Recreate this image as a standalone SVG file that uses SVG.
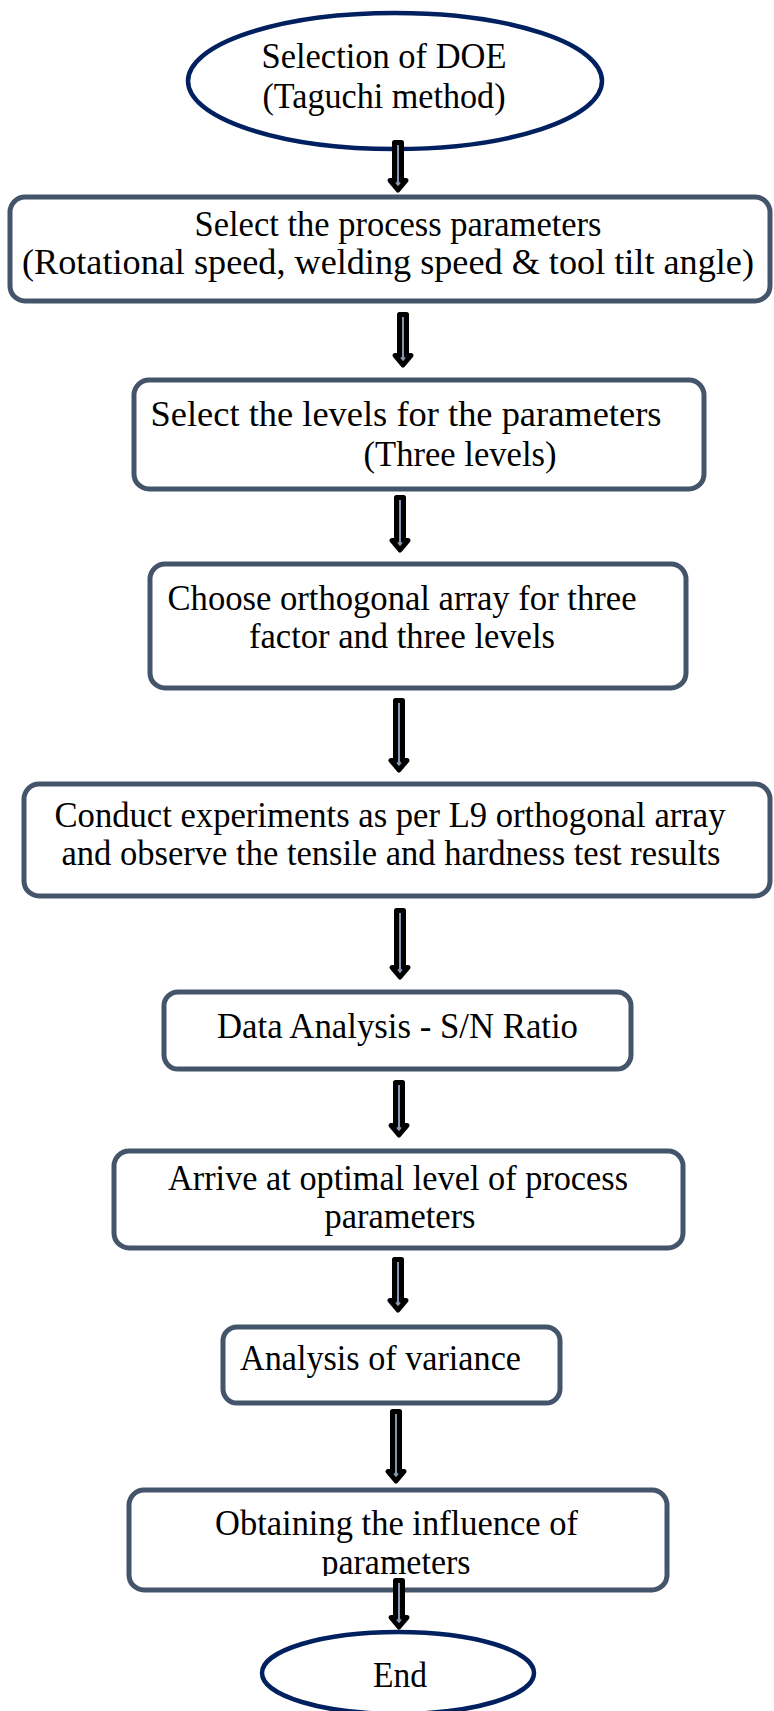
<svg xmlns="http://www.w3.org/2000/svg" width="774" height="1711" viewBox="0 0 774 1711">
<style>
.bg{fill:#ffffff}
.box{fill:#ffffff;stroke:#44546A;stroke-width:5}
.oval{fill:#ffffff;stroke:#002060;stroke-width:4.5}
.t{font-family:"Liberation Serif","Times New Roman",serif;font-size:35px;fill:#000000;text-anchor:middle}
.arr{fill:#8496B0;stroke:#000000;stroke-width:5;stroke-linejoin:round}
</style>
<defs>
<clipPath id="clipB8"><rect x="100" y="1480" width="600" height="96"/></clipPath>
</defs>
<rect class="bg" x="0" y="0" width="774" height="1711"/>
<g id="n-start">
<ellipse class="oval" cx="395" cy="81" rx="207" ry="68"/>
<text class="t" x="384" y="68" textLength="245" lengthAdjust="spacingAndGlyphs">Selection of DOE</text>
<text class="t" x="384" y="108" textLength="243" lengthAdjust="spacingAndGlyphs">(Taguchi method)</text>
</g>
<g id="n-params">
<rect class="box" x="10" y="197" width="760" height="104" rx="15"/>
<text class="t" x="398" y="236" textLength="407" lengthAdjust="spacingAndGlyphs">Select the process parameters</text>
<text class="t" x="388" y="274" textLength="732" lengthAdjust="spacingAndGlyphs">(Rotational speed, welding speed &amp; tool tilt angle)</text>
</g>
<g id="n-levels">
<rect class="box" x="134" y="380" width="570" height="109" rx="15"/>
<text class="t" x="406" y="426" textLength="511" lengthAdjust="spacingAndGlyphs">Select the levels for the parameters</text>
<text class="t" x="460" y="466" textLength="193" lengthAdjust="spacingAndGlyphs">(Three levels)</text>
</g>
<g id="n-array">
<rect class="box" x="150" y="564" width="536" height="124" rx="15"/>
<text class="t" x="402" y="610" textLength="469" lengthAdjust="spacingAndGlyphs">Choose orthogonal array for three</text>
<text class="t" x="402" y="648" textLength="306" lengthAdjust="spacingAndGlyphs">factor and three levels</text>
</g>
<g id="n-experiments">
<rect class="box" x="24" y="784" width="746" height="112" rx="15"/>
<text class="t" x="390" y="827" textLength="671" lengthAdjust="spacingAndGlyphs">Conduct experiments as per L9 orthogonal array</text>
<text class="t" x="391" y="865" textLength="659" lengthAdjust="spacingAndGlyphs">and observe the tensile and hardness test results</text>
</g>
<g id="n-sn">
<rect class="box" x="164" y="992" width="467" height="77" rx="14"/>
<text class="t" x="397.5" y="1038" textLength="361" lengthAdjust="spacingAndGlyphs">Data Analysis - S/N Ratio</text>
</g>
<g id="n-optimal">
<rect class="box" x="114" y="1151" width="569" height="97" rx="15"/>
<text class="t" x="398" y="1190" textLength="460" lengthAdjust="spacingAndGlyphs">Arrive at optimal level of process</text>
<text class="t" x="400" y="1228" textLength="151" lengthAdjust="spacingAndGlyphs">parameters</text>
</g>
<g id="n-anova">
<rect class="box" x="223" y="1327" width="337" height="76" rx="14"/>
<text class="t" x="380.5" y="1370" textLength="281" lengthAdjust="spacingAndGlyphs">Analysis of variance</text>
</g>
<g id="n-influence">
<rect class="box" x="129" y="1490" width="538" height="100" rx="15"/>
<text class="t" x="396.5" y="1535" textLength="363" lengthAdjust="spacingAndGlyphs">Obtaining the influence of</text>
<g clip-path="url(#clipB8)">
<text class="t" x="396" y="1574" textLength="149" lengthAdjust="spacingAndGlyphs">parameters</text>
</g>
</g>
<g id="n-end">
<ellipse class="oval" cx="398" cy="1673" rx="136" ry="41"/>
<text class="t" x="400" y="1687" textLength="54" lengthAdjust="spacingAndGlyphs">End</text>
</g>
<g id="connectors">
<path class="arr" d="M394.5,142.5 H401.5 V180.5 H406 L398,190 L390,180.5 H394.5 Z"/>
<path class="arr" d="M399.5,314.5 H406.5 V355.5 H411 L403,365 L395,355.5 H399.5 Z"/>
<path class="arr" d="M396.5,497.5 H403.5 V540.5 H408 L400,550 L392,540.5 H396.5 Z"/>
<path class="arr" d="M395.5,700.5 H402.5 V760.5 H407 L399,770 L391,760.5 H395.5 Z"/>
<path class="arr" d="M396.5,910.5 H403.5 V967.5 H408 L400,977 L392,967.5 H396.5 Z"/>
<path class="arr" d="M395.5,1082.5 H402.5 V1125.5 H407 L399,1135 L391,1125.5 H395.5 Z"/>
<path class="arr" d="M394.5,1259.5 H401.5 V1300.5 H406 L398,1310 L390,1300.5 H394.5 Z"/>
<path class="arr" d="M392.5,1411.5 H399.5 V1471.5 H404 L396,1481 L388,1471.5 H392.5 Z"/>
<path class="arr" d="M395.5,1580.5 H402.5 V1617.5 H407 L399,1627 L391,1617.5 H395.5 Z"/>
</g>
</svg>
